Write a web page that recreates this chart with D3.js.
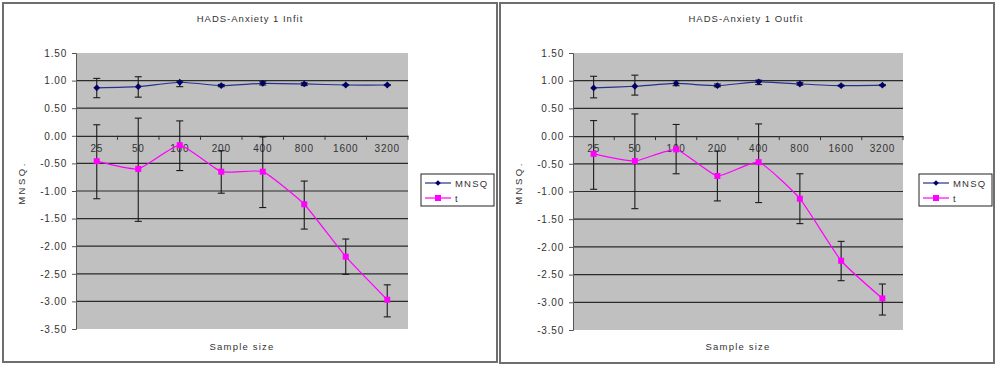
<!DOCTYPE html>
<html><head><meta charset="utf-8">
<script src="https://cdn.jsdelivr.net/npm/d3@7"></script>
<style>
html,body{margin:0;padding:0;background:#fff;}
svg{display:block;}
text{font-family:"Liberation Sans",Arial,sans-serif;}
</style></head>
<body>
<svg id="chart" width="996" height="365"></svg>
<script>
const categories = ["25","50","100","200","400","800","1600","3200"];
const yTickValues = [1.5,1.0,0.5,0.0,-0.5,-1.0,-1.5,-2.0,-2.5,-3.0,-3.5];

// Infit
const infitTitle = "HADS-Anxiety 1 Infit";
const infitMnsq = [0.87,0.89,0.97,0.91,0.95,0.94,0.92,0.92];
const infitMnsqHi = [1.04,1.07,0.99,0.93,0.98,0.96,0.93,0.93];
const infitMnsqLo = [0.69,0.70,0.89,0.89,0.92,0.91,0.91,0.91];
const infitT = [-0.46,-0.60,-0.17,-0.65,-0.65,-1.24,-2.19,-2.97];
const infitTHi = [0.20,0.32,0.27,-0.27,-0.02,-0.82,-1.87,-2.70];
const infitTLo = [-1.14,-1.55,-0.63,-1.04,-1.30,-1.69,-2.51,-3.28];

// Outfit
const outfitTitle = "HADS-Anxiety 1 Outfit";
const outfitMnsq = [0.87,0.90,0.95,0.91,0.98,0.94,0.91,0.92];
const outfitMnsqHi = [1.08,1.10,1.00,0.94,1.01,0.97,0.92,0.93];
const outfitMnsqLo = [0.69,0.74,0.91,0.89,0.93,0.92,0.90,0.91];
const outfitT = [-0.32,-0.45,-0.24,-0.72,-0.47,-1.13,-2.25,-2.93];
const outfitTHi = [0.28,0.40,0.21,-0.27,0.22,-0.68,-1.90,-2.67];
const outfitTLo = [-0.96,-1.31,-0.68,-1.17,-1.20,-1.58,-2.61,-3.23];

const seriesNames = ["MNSQ","t"];
const xTitle = "Sample size";
const yTitle = "MNSQ.";

const fmt = d3.formatLocale({decimal:".",thousands:",",grouping:[3],currency:["",""],minus:"-"}).format(".2f");

const svg = d3.select("#chart");

function panel(cfg){
  const g = svg.append("g").attr("transform",`translate(${cfg.ox},0)`);
  g.append("rect").attr("x",cfg.frame[0]).attr("y",cfg.frame[1]).attr("width",cfg.frame[2]).attr("height",cfg.frame[3])
    .attr("fill","#fff").attr("stroke","#6e6e6e").attr("stroke-width",2);

  const x = d3.scaleBand().domain(categories).range([cfg.pl,cfg.pr]);
  const y = d3.scaleLinear().domain([-3.5,1.5]).range([cfg.pb,cfg.pt]);
  const cx = c => x(c)+x.bandwidth()/2;

  g.append("rect").attr("x",cfg.pl).attr("y",cfg.pt).attr("width",cfg.pr-cfg.pl).attr("height",cfg.pb-cfg.pt)
    .attr("fill","#c0c0c0");
  g.selectAll("line.grid").data(yTickValues.filter(v=>v<1.5 && v>-3.5 && v!==0)).enter().append("line")
    .attr("x1",cfg.pl).attr("x2",cfg.pr).attr("y1",d=>y(d)).attr("y2",d=>y(d))
    .attr("stroke","#2b2b2b").attr("stroke-width",1.2);

  const ya = d3.axisLeft(y).tickValues(yTickValues).tickFormat(fmt).tickSize(4).tickPadding(5);
  const yg = g.append("g").attr("transform",`translate(${cfg.pl},0)`).call(ya);
  yg.select(".domain").attr("stroke","#555");
  yg.selectAll(".tick line").attr("stroke","#555");
  yg.selectAll("text").attr("font-size",10).attr("fill","#333").attr("letter-spacing","0.8px");

  const xa = d3.axisBottom(x).tickSize(0).tickPadding(9);
  const xg = g.append("g").attr("transform",`translate(0,${y(0)})`).call(xa);
  xg.select(".domain").attr("stroke","#2b2b2b").attr("stroke-width",1.2);
  xg.selectAll("text").attr("font-size",10).attr("fill","#333").attr("letter-spacing","0.8px");
  g.selectAll("line.xt").data(categories.slice(1).concat(["__end"])).enter().append("line")
    .attr("x1",d=>d==="__end"?cfg.pr:x(d)).attr("x2",d=>d==="__end"?cfg.pr:x(d))
    .attr("y1",y(0)).attr("y2",y(0)+4).attr("stroke","#333");

  function errBars(hi,lo){
    const eg = g.append("g");
    categories.forEach((c,i)=>{
      const X = cx(c);
      eg.append("line").attr("x1",X).attr("x2",X).attr("y1",y(hi[i])).attr("y2",y(lo[i])).attr("stroke","#1a1a1a").attr("stroke-width",1.1);
      [hi[i],lo[i]].forEach(v=>{
        eg.append("line").attr("x1",X-3.5).attr("x2",X+3.5).attr("y1",y(v)).attr("y2",y(v)).attr("stroke","#1a1a1a").attr("stroke-width",1.1);
      });
    });
  }
  errBars(cfg.mnsqHi,cfg.mnsqLo);
  errBars(cfg.tHi,cfg.tLo);

  const line = d3.line().x((d,i)=>cx(categories[i])).y(d=>y(d)).curve(d3.curveCardinal.tension(0.55));
  g.append("path").datum(cfg.mnsq).attr("d",line).attr("fill","none").attr("stroke","#26308f").attr("stroke-width",1.2);
  g.append("path").datum(cfg.t).attr("d",line).attr("fill","none").attr("stroke","#ff00ff").attr("stroke-width",1.2);

  const dm = "M0,-3.4L3.4,0L0,3.4L-3.4,0Z";
  g.selectAll("path.dm").data(cfg.mnsq).enter().append("path")
    .attr("d",dm).attr("transform",(d,i)=>`translate(${cx(categories[i])},${y(d)})`).attr("fill","#000066");
  g.selectAll("rect.sq").data(cfg.t).enter().append("rect")
    .attr("x",(d,i)=>cx(categories[i])-3).attr("y",d=>y(d)-3).attr("width",6).attr("height",6).attr("fill","#ff00ff");

  g.append("text").attr("x",cfg.titleX).attr("y",22).attr("text-anchor","middle").attr("font-size",9.5)
    .attr("letter-spacing","1px").attr("fill","#333").text(cfg.title);
  g.append("text").attr("x",(cfg.pl+cfg.pr)/2).attr("y",350).attr("text-anchor","middle").attr("font-size",9.5)
    .attr("letter-spacing","1.2px").attr("fill","#333").text(xTitle);
  g.append("text").attr("transform",`translate(${cfg.yTitleX},183) rotate(-90)`).attr("text-anchor","middle")
    .attr("font-size",9.5).attr("letter-spacing","2.5px").attr("fill","#333").text(yTitle);

  const lg = g.append("g").attr("transform",`translate(${cfg.legX},174)`);
  lg.append("rect").attr("width",73).attr("height",32).attr("fill","#fff").attr("stroke","#222").attr("stroke-width",1);
  const legColors = ["#26308f","#ff00ff"];
  seriesNames.forEach((n,i)=>{
    const yy = 9 + i*15;
    lg.append("line").attr("x1",4).attr("x2",30).attr("y1",yy).attr("y2",yy).attr("stroke",legColors[i]).attr("stroke-width",1.2);
    if(i===0) lg.append("path").attr("d","M0,-2.8L2.8,0L0,2.8L-2.8,0Z").attr("transform",`translate(17,${yy})`).attr("fill","#000066");
    else lg.append("rect").attr("x",14).attr("y",yy-3).attr("width",6).attr("height",6).attr("fill","#ff00ff");
    lg.append("text").attr("x",34).attr("y",yy+3.5).attr("font-size",9.5).attr("letter-spacing","1.2px").attr("fill","#333").text(n);
  });
}

panel({ox:0, frame:[3,3,494,359], pl:76, pr:408, pt:53, pb:329, title:infitTitle, titleX:250, yTitleX:25, legX:421,
  mnsq:infitMnsq, mnsqHi:infitMnsqHi, mnsqLo:infitMnsqLo, t:infitT, tHi:infitTHi, tLo:infitTLo});
panel({ox:496, frame:[4,3,494,360], pl:77, pr:407, pt:53, pb:330, title:outfitTitle, titleX:250, yTitleX:26, legX:423,
  mnsq:outfitMnsq, mnsqHi:outfitMnsqHi, mnsqLo:outfitMnsqLo, t:outfitT, tHi:outfitTHi, tLo:outfitTLo});
</script>
</body></html>
